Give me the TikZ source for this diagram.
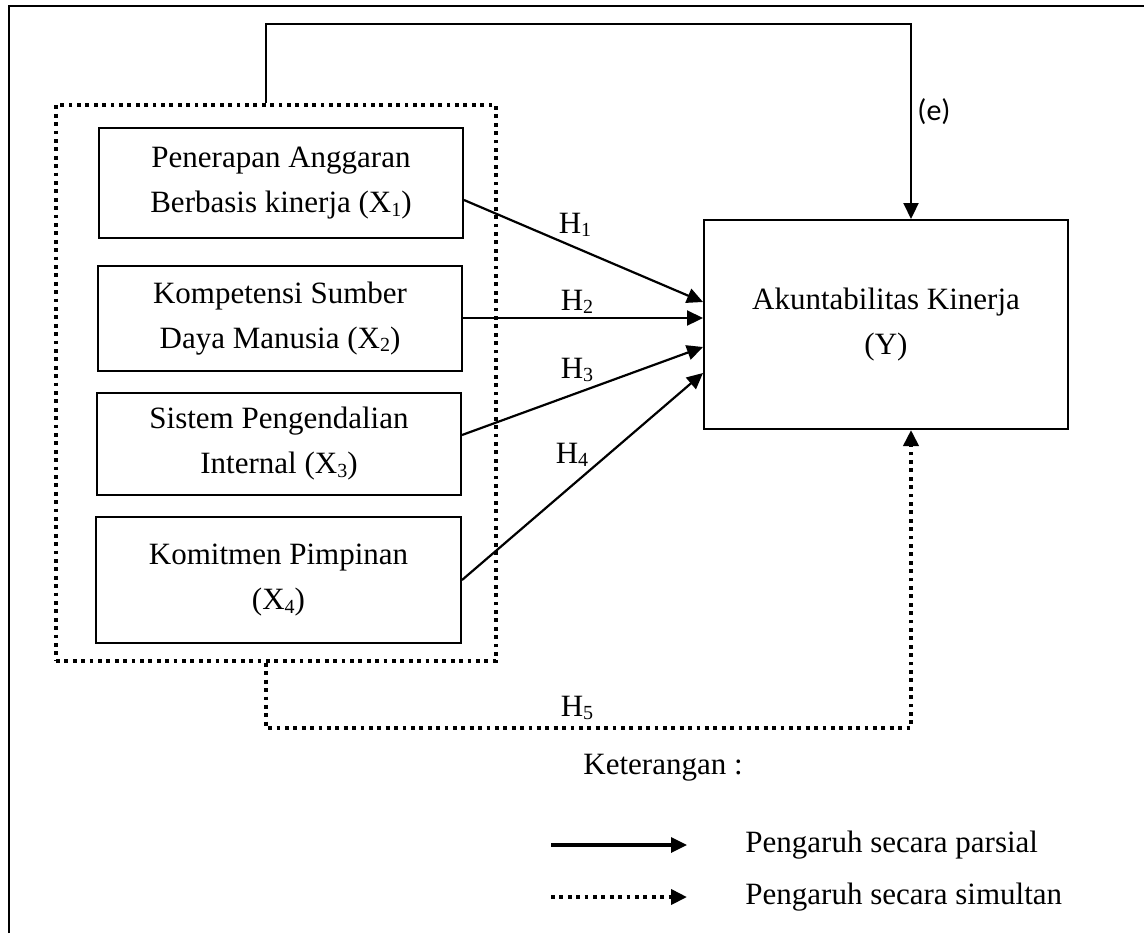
\documentclass[tikz,border=0pt]{standalone}
\usepackage{fontspec}
\setmainfont{Liberation Serif}
\newfontfamily\calfont{Carlito}
\usetikzlibrary{arrows.meta}
\newcommand\lowsub[1]{\raisebox{-0.25ex}{\fontsize{10pt}{10pt}\selectfont #1}}
\begin{document}
\begin{tikzpicture}[x=0.5pt,y=-0.5pt,
  frameline/.style={line width=1pt},
  varbox/.style={draw,line width=1pt,align=center,inner sep=0pt,font=\fontsize{15.5pt}{22.5pt}\selectfont},
  lbl/.style={font=\fontsize{15.5pt}{22.5pt}\selectfont,inner sep=0pt},
  solidarrow/.style={line width=1.1pt,-{Triangle[length=8pt,width=7.5pt]}},
  dotline/.style={line width=1.9pt,dash pattern=on 1.9pt off 2.3pt},
  dotarrow/.style={dotline,-{Triangle[length=8pt,width=7.5pt]}},
]
\useasboundingbox (0,0) rectangle (1144,933);
% outer frame (left and top)
\draw[frameline] (9,933) -- (9,6) -- (1144,6);

% group dotted box
\node[draw,dotline,minimum width=220pt,minimum height=278pt,inner sep=0pt] (grp) at (276,383) {};

% variable boxes
\node[varbox,minimum width=182pt,minimum height=55pt] (x1) at (281,183) {Penerapan Anggaran\\Berbasis kinerja (X\lowsub{1})};
\node[varbox,minimum width=182pt,minimum height=52.5pt] (x2) at (280,318.5) {Kompetensi Sumber\\Daya Manusia (X\lowsub{2})};
\node[varbox,minimum width=182pt,minimum height=51pt] (x3) at (279,444) {Sistem Pengendalian\\Internal (X\lowsub{3})};
\node[varbox,minimum width=182.5pt,minimum height=63pt] (x4) at (278.5,580) {Komitmen Pimpinan\\(X\lowsub{4})};
\node[varbox,minimum width=182pt,minimum height=104.5pt] (yv) at (886,324.5) {Akuntabilitas Kinerja\\(Y)};

% partial arrows
\draw[solidarrow] (x1.east |- 0,200) -- (yv.west |- 0,302);
\draw[solidarrow] (x2.east |- 0,318) -- (yv.west |- 0,318);
\draw[solidarrow] (x3.east |- 0,435) -- (yv.west |- 0,347);
\draw[solidarrow] (x4.east |- 0,580) -- (yv.west |- 0,373);

\node[lbl] (h1) at (575,225) {H\lowsub{1}};
\node[lbl] (h2) at (577,302) {H\lowsub{2}};
\node[lbl] (h3) at (577,370) {H\lowsub{3}};
\node[lbl] (h4) at (572,455) {H\lowsub{4}};
\node[lbl] (h5) at (577,708) {H\lowsub{5}};

% error term line
\coordinate (etop) at (911,24);
\draw[solidarrow] (grp.north -| 266,0) |- (etop) -- (yv.north -| etop);
\node[font=\calfont\fontsize{15pt}{17pt}\selectfont,inner sep=0pt] (e) at (934,112) {(e)};

% simultaneous line
\coordinate (sbot) at (911,728);
\draw[dotarrow] (grp.south -| 266,0) |- (sbot) -- (yv.south -| sbot);

% legend
\node[lbl,anchor=west] (ket) at (583,768) {Keterangan :};
\coordinate (l1a) at (551,845);
\coordinate (l1b) at (687,845);
\coordinate (l2a) at (551,897);
\coordinate (l2b) at (687,897);
\draw[solidarrow,line width=1.6pt] (l1a) -- (l1b);
\draw[dotarrow] (l2a) -- (l2b);
\node[lbl,anchor=west] (p1) at (745,845) {Pengaruh secara parsial};
\node[lbl,anchor=west] (p2) at (745,897) {Pengaruh secara simultan};
\end{tikzpicture}
\end{document}
